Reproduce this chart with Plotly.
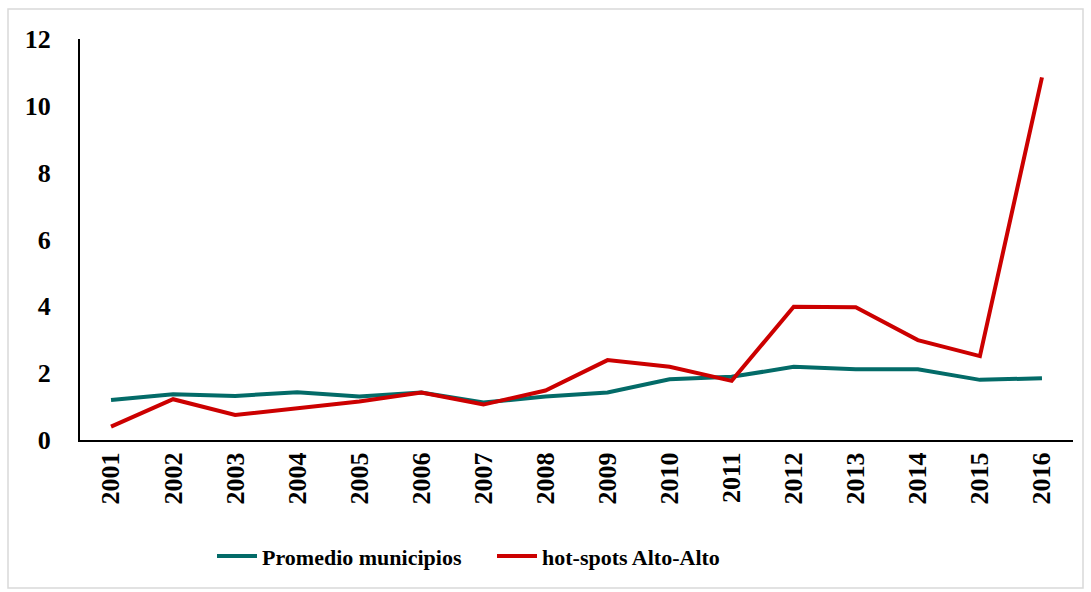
import plotly.graph_objects as go

years = [str(y) for y in range(2001, 2017)]
promedio = [1.20, 1.37, 1.32, 1.43, 1.30, 1.42, 1.12, 1.30, 1.42, 1.82, 1.89, 2.19, 2.12, 2.12, 1.80, 1.85]
hotspots = [0.40, 1.22, 0.75, 0.95, 1.15, 1.42, 1.06, 1.48, 2.39, 2.19, 1.77, 3.99, 3.97, 2.99, 2.51, 10.85]
y_ticks = [0, 2, 4, 6, 8, 10, 12]

FONT = "Liberation Serif"
W, H = 1091, 592
L, R, T, B = 80, 18, 39, 152
pw, ph = W - L - R, H - T - B

fig = go.Figure()
fig.add_trace(go.Scatter(x=years, y=promedio, mode="lines", name="Promedio municipios",
                         line=dict(color="#036B68", width=4)))
fig.add_trace(go.Scatter(x=years, y=hotspots, mode="lines", name="hot-spots Alto-Alto",
                         line=dict(color="#CC0000", width=4)))

# light grey frame around the whole chart
fig.add_shape(type="rect", xref="paper", yref="paper",
              x0=(8 - L) / pw, x1=(W - 8 - L) / pw,
              y0=-(B - 4) / ph, y1=1 + (T - 9) / ph,
              line=dict(color="#D9D9D9", width=1.5))

fig.update_layout(
    width=W, height=H,
    margin=dict(l=L, r=R, t=T, b=B),
    paper_bgcolor="white", plot_bgcolor="white",
    font=dict(family=FONT, size=22, color="black"),
    showlegend=True,
    legend=dict(orientation="h", x=(212 - L) / pw, xanchor="left", y=-0.29, yanchor="middle",
                font=dict(family=FONT, size=22, color="black", weight="bold"),
                itemwidth=40, entrywidth=225, tracegroupgap=0),
)
fig.update_xaxes(type="category", range=[-0.5, len(years) - 0.5], showgrid=False, showline=True,
                 linecolor="black", linewidth=2, tickangle=-90, ticks="", zeroline=False,
                 tickfont=dict(family=FONT, size=26, color="black", weight="bold"))
fig.update_yaxes(range=[0, 12], tickvals=y_ticks, showgrid=False, showline=True, linecolor="black",
                 linewidth=2, ticks="", zeroline=False, ticklabelstandoff=22,
                 tickfont=dict(family=FONT, size=26, color="black", weight="bold"))

fig.write_html("out.html", config={"displayModeBar": False},
               post_script="document.body.style.margin='0px';")
